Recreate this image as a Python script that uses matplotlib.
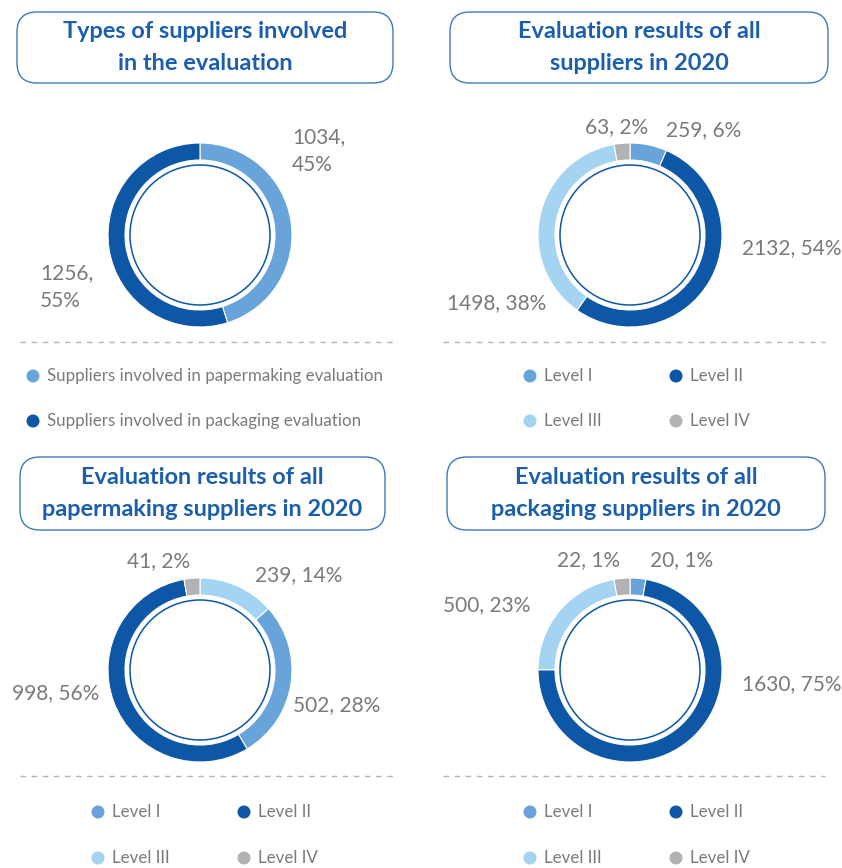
import matplotlib
matplotlib.use("Agg")
import matplotlib.pyplot as plt
from matplotlib.patches import FancyBboxPatch, Circle

# ---------------- data ----------------
p1_title = "Types of suppliers involved\nin the evaluation"
p1_names = ["Suppliers involved in papermaking evaluation", "Suppliers involved in packaging evaluation"]
p1_values = [1034, 1256]
p1_pcts = ["45%", "55%"]

levels = ["Level I", "Level II", "Level III", "Level IV"]

p2_title = "Evaluation results of all\nsuppliers in 2020"
p2_values = [259, 2132, 1498, 63]
p2_pcts = ["6%", "54%", "38%", "2%"]

p3_title = "Evaluation results of all\npapermaking suppliers in 2020"
p3_order = ["Level III", "Level I", "Level II", "Level IV"]
p3_values = [239, 502, 998, 41]
p3_pcts = ["14%", "28%", "56%", "2%"]

p4_title = "Evaluation results of all\npackaging suppliers in 2020"
p4_values = [20, 1630, 500, 22]
p4_pcts = ["1%", "75%", "23%", "1%"]

# ---------------- style ----------------
W, H = 842, 868
C_L1 = "#68a4d9"
C_L2 = "#0d57a6"
C_L3 = "#a5d4f2"
C_L4 = "#b2b2b2"
level_colors = {"Level I": C_L1, "Level II": C_L2, "Level III": C_L3, "Level IV": C_L4}
TITLE_C = "#1b5eab"
GRAY = "#7a7a7a"
FONT = "Lato"
MIN_ANGLE = 10.0

fig = plt.figure(figsize=(W / 100, H / 100), dpi=100)
ax = fig.add_axes([0, 0, 1, 1])


def Y(yp):
    return H - yp


def display_shares(values):
    """Slice angles with a minimum angle (like ECharts minAngle)."""
    total = float(sum(values))
    ang = [v / total * 360.0 for v in values]
    small = [a < MIN_ANGLE for a in ang]
    rest = 360.0 - MIN_ANGLE * sum(small)
    big_sum = sum(v for v, s in zip(values, small) if not s)
    return [MIN_ANGLE if s else v / big_sum * rest for v, s in zip(values, small)]


def title_box(x0, y0, x1, y1, text):
    box = FancyBboxPatch((x0 + 20, Y(y1) + 20), (x1 - x0) - 40, (y1 - y0) - 40,
                         boxstyle="round,pad=20", facecolor="white",
                         edgecolor="#3f78bd", linewidth=1.0, zorder=2)
    ax.add_patch(box)
    ax.text((x0 + x1) / 2, Y((y0 + y1) / 2), text, ha="center", va="center",
            fontsize=16.9, fontweight="bold", color=TITLE_C, family=FONT,
            linespacing=1.6, zorder=3)


def donut(cx, cy, values, colors):
    ax.pie(display_shares(values), colors=colors, radius=92, center=(cx, Y(cy)),
           startangle=90, counterclock=False,
           wedgeprops=dict(width=17, edgecolor="white", linewidth=0.8),
           frame=True)
    ax.add_patch(Circle((cx, Y(cy)), 70, fill=False, edgecolor=C_L2, linewidth=1.1, zorder=3))


def label(x, y, text, ha="left"):
    ax.text(x, Y(y), text, ha=ha, va="center", fontsize=15, color=GRAY, family=FONT,
            linespacing=1.55)


def sep(x0, x1, y):
    ax.plot([x0, x1], [Y(y), Y(y)], color="#b5b5b5", linewidth=1.0,
            dashes=(4, 4))


def legend_item(x, y, text, color):
    ax.add_patch(Circle((x, Y(y)), 6.5, facecolor=color, edgecolor="none", zorder=3))
    ax.text(x + 14, Y(y), text, ha="left", va="center", fontsize=12.2,
            color=GRAY, family=FONT)


# ---------- panel 1 ----------
title_box(17, 12, 393, 83, p1_title)
donut(200, 235, p1_values, [C_L1, C_L2])
label(292, 151, f"{p1_values[0]},\n{p1_pcts[0]}")
label(40, 287, f"{p1_values[1]},\n{p1_pcts[1]}")
sep(20, 395, 342)
legend_item(33, 376, p1_names[0], C_L1)
legend_item(33, 421, p1_names[1], C_L2)

# ---------- panel 2 ----------
title_box(450, 12, 828, 83, p2_title)
donut(630, 235, p2_values, [level_colors[l] for l in levels])
label(666, 130, f"{p2_values[0]}, {p2_pcts[0]}")
label(742, 248, f"{p2_values[1]}, {p2_pcts[1]}")
label(447, 303, f"{p2_values[2]}, {p2_pcts[2]}")
label(585, 127, f"{p2_values[3]}, {p2_pcts[3]}")
sep(443, 825, 342)
legend_item(530, 376, levels[0], C_L1)
legend_item(676, 376, levels[1], C_L2)
legend_item(530, 421, levels[2], C_L3)
legend_item(676, 421, levels[3], C_L4)

# ---------- panel 3 ----------
title_box(20, 457, 385, 530, p3_title)
donut(200, 670, p3_values, [level_colors[l] for l in p3_order])
label(255, 575, f"{p3_values[0]}, {p3_pcts[0]}")
label(293, 705, f"{p3_values[1]}, {p3_pcts[1]}")
label(12, 693, f"{p3_values[2]}, {p3_pcts[2]}")
label(127, 561, f"{p3_values[3]}, {p3_pcts[3]}")
sep(20, 395, 776)
legend_item(98, 812, levels[0], C_L1)
legend_item(244, 812, levels[1], C_L2)
legend_item(98, 858, levels[2], C_L3)
legend_item(244, 858, levels[3], C_L4)

# ---------- panel 4 ----------
title_box(447, 457, 825, 530, p4_title)
donut(630, 670, p4_values, [level_colors[l] for l in levels])
label(650, 560, f"{p4_values[0]}, {p4_pcts[0]}")
label(742, 684, f"{p4_values[1]}, {p4_pcts[1]}")
label(443, 605, f"{p4_values[2]}, {p4_pcts[2]}")
label(557, 560, f"{p4_values[3]}, {p4_pcts[3]}")
sep(443, 825, 776)
legend_item(530, 812, levels[0], C_L1)
legend_item(676, 812, levels[1], C_L2)
legend_item(530, 858, levels[2], C_L3)
legend_item(676, 858, levels[3], C_L4)

ax.set_xlim(0, W)
ax.set_ylim(0, H)
ax.set_aspect("equal")
ax.axis("off")
fig.savefig("out.png", dpi=100, facecolor="white")
